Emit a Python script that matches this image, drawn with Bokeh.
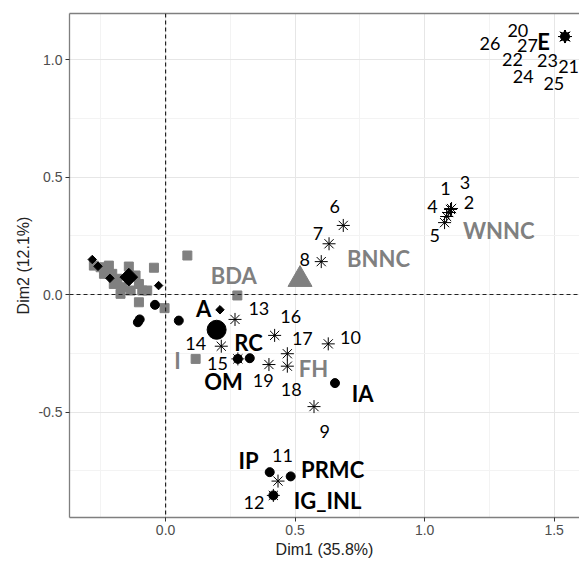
from bokeh.plotting import figure
from bokeh.models import Range1d, FixedTicker, LinearAxis, Span
from bokeh.core.properties import value
from bokeh.embed import file_html
from bokeh.resources import INLINE
import math

# Individuals 1..27 (Dim1, Dim2)
ind_ids = [str(i) for i in range(1, 28)]
ind_x = [1.093, 1.100, 1.104, 1.085, 1.077, 0.686, 0.631, 0.601, 0.573, 0.628,
         0.434, 0.416, 0.268, 0.215, 0.279, 0.421, 0.470, 0.470, 0.399,
         1.542, 1.542, 1.542, 1.542, 1.542, 1.542, 1.542, 1.542]
ind_y = [0.349, 0.362, 0.366, 0.332, 0.306, 0.294, 0.216, 0.140, -0.477, -0.210,
         -0.794, -0.855, -0.106, -0.220, -0.274, -0.174, -0.252, -0.305, -0.298,
         1.098, 1.098, 1.098, 1.098, 1.098, 1.098, 1.098, 1.098]
ind_lab_x = [1.081, 1.171, 1.156, 1.030, 1.039, 0.653, 0.588, 0.537, 0.614, 0.714,
             0.451, 0.341, 0.360, 0.116, 0.200, 0.483, 0.528, 0.485, 0.377,
             1.360, 1.556, 1.339, 1.474, 1.381, 1.499, 1.252, 1.397]
ind_lab_y = [0.450, 0.393, 0.478, 0.376, 0.251, 0.374, 0.261, 0.148, -0.582, -0.182,
             -0.685, -0.884, -0.061, -0.207, -0.294, -0.094, -0.186, -0.406, -0.366,
             1.123, 0.971, 0.999, 0.996, 0.928, 0.899, 1.067, 1.060]

# Category points
diamond_x = [-0.283, -0.261, -0.215, -0.027, 0.210]
diamond_y = [0.149, 0.120, 0.069, 0.038, -0.065]
big_diamond_x = [-0.142]
big_diamond_y = [0.074]

square_x = [-0.277, -0.251, -0.219, -0.238, -0.206, -0.186, -0.142, -0.116, -0.103,
            -0.200, -0.167, -0.135, -0.090, -0.071, -0.174, -0.103, -0.045, -0.004,
            0.084, 0.277, 0.116]
square_y = [0.123, 0.116, 0.123, 0.088, 0.088, 0.067, 0.119, 0.081, 0.045,
            0.045, 0.031, 0.017, 0.017, 0.017, 0.003, -0.033, 0.114, -0.058,
            0.166, -0.004, -0.274]

circle_x = [-0.041, -0.100, -0.107, 0.051, 0.325, 0.654, 0.402, 0.483, 0.416, 0.279, 1.542]
circle_y = [-0.044, -0.106, -0.118, -0.111, -0.271, -0.377, -0.756, -0.774, -0.855, -0.274, 1.098]
big_circle_x = [0.197]
big_circle_y = [-0.150]

triangle_x = [0.519]
triangle_y = [0.064]

black_labels = ["A", "RC", "OM", "IA", "IP", "PRMC", "IG_INL", "E"]
black_lab_x = [0.147, 0.320, 0.224, 0.761, 0.320, 0.645, 0.625, 1.459]
black_lab_y = [-0.060, -0.204, -0.370, -0.421, -0.706, -0.745, -0.877, 1.077]

gray_labels = ["BDA", "BNNC", "WNNC", "FH", "I"]
gray_lab_x = [0.263, 0.822, 1.286, 0.571, 0.046]
gray_lab_y = [0.081, 0.153, 0.272, -0.315, -0.281]

x_major = [-0.5, 0.0, 0.5, 1.0, 1.5]
x_minor = [-0.25, 0.25, 0.75, 1.25]
y_major = [-0.5, 0.0, 0.5, 1.0]
y_minor = [-0.75, -0.25, 0.25, 0.75]

GRAY = "#808080"

p = figure(width=579, height=564, output_backend="svg", toolbar_location=None,
           x_range=Range1d(-0.371, 1.598), y_range=Range1d(-0.949, 1.196),
           min_border_left=69, min_border_top=13, min_border_bottom=47, min_border_right=0)
p.outline_line_color = None
p.background_fill_color = "white"
p.border_fill_color = "white"

for ax, maj, mino in ((p.xaxis[0], x_major, x_minor), (p.yaxis[0], y_major, y_minor)):
    ax.ticker = FixedTicker(ticks=maj, minor_ticks=mino)
    ax.axis_line_color = "#7f7f7f"
    ax.axis_line_width = 1.3
    ax.major_tick_line_color = "#333333"
    ax.major_tick_out = 4
    ax.major_tick_in = 0
    ax.minor_tick_line_color = None
    ax.major_label_text_font = "Liberation Sans"
    ax.major_label_text_font_size = "14px"
    ax.major_label_text_color = "#4d4d4d"
    ax.axis_label_text_font = "Liberation Sans"
    ax.axis_label_text_font_size = "16px"
    ax.axis_label_text_font_style = "normal"
    ax.axis_label_text_color = "#222222"
    ax.major_label_standoff = 3
    ax.axis_label_standoff = 3

p.xaxis.axis_label = "Dim1 (35.8%)"
p.yaxis.axis_label = "Dim2 (12.1%)"
p.xaxis.major_label_overrides = {-0.5: "-0.5", 0.0: "0.0", 0.5: "0.5", 1.0: "1.0", 1.5: "1.5"}
p.yaxis.major_label_overrides = {-0.5: "-0.5", 0.0: "0.0", 0.5: "0.5", 1.0: "1.0"}

top_axis = LinearAxis(ticker=FixedTicker(ticks=[]), major_label_text_font_size="0px",
                      axis_line_color="#7f7f7f", axis_line_width=1.3,
                      major_tick_line_color=None, minor_tick_line_color=None)
p.add_layout(top_axis, "above")

p.xgrid.grid_line_color = "#e6e6e6"
p.ygrid.grid_line_color = "#e6e6e6"
p.xgrid.minor_grid_line_color = "#f3f3f3"
p.ygrid.minor_grid_line_color = "#f3f3f3"

p.add_layout(Span(location=0, dimension="height", line_color="#222222", line_width=1.2, line_dash="4 3"))
p.add_layout(Span(location=0, dimension="width", line_color="#222222", line_width=1.2, line_dash="4 3"))

p.scatter(square_x, square_y, marker="square", size=9, color=GRAY)
p.scatter(diamond_x, diamond_y, marker="square", size=6, angle=math.pi / 4, color="black")
p.scatter(big_diamond_x, big_diamond_y, marker="square", size=12.5, angle=math.pi / 4, color="black")
p.scatter(triangle_x, triangle_y, marker="triangle", size=24, color=GRAY)
p.scatter(circle_x, circle_y, marker="circle", size=9, color="black")
p.scatter(big_circle_x, big_circle_y, marker="circle", size=19, color="black")
p.scatter(ind_x, ind_y, marker="asterisk", size=13, line_color="black", line_width=1)

p.text(ind_lab_x, ind_lab_y, text=ind_ids, text_align="center", text_baseline="middle",
       text_font=value("Lato"), text_font_size="18px", text_color="black")
p.text(black_lab_x, black_lab_y, text=black_labels, text_align="center", text_baseline="middle",
       text_font=value("Lato"), text_font_size="22px", text_font_style="bold", text_color="black")
p.text(gray_lab_x, gray_lab_y, text=gray_labels, text_align="center", text_baseline="middle",
       text_font=value("Lato"), text_font_size="22px", text_font_style="bold", text_color=GRAY)

open("out.html", "w").write(file_html(p, INLINE))
